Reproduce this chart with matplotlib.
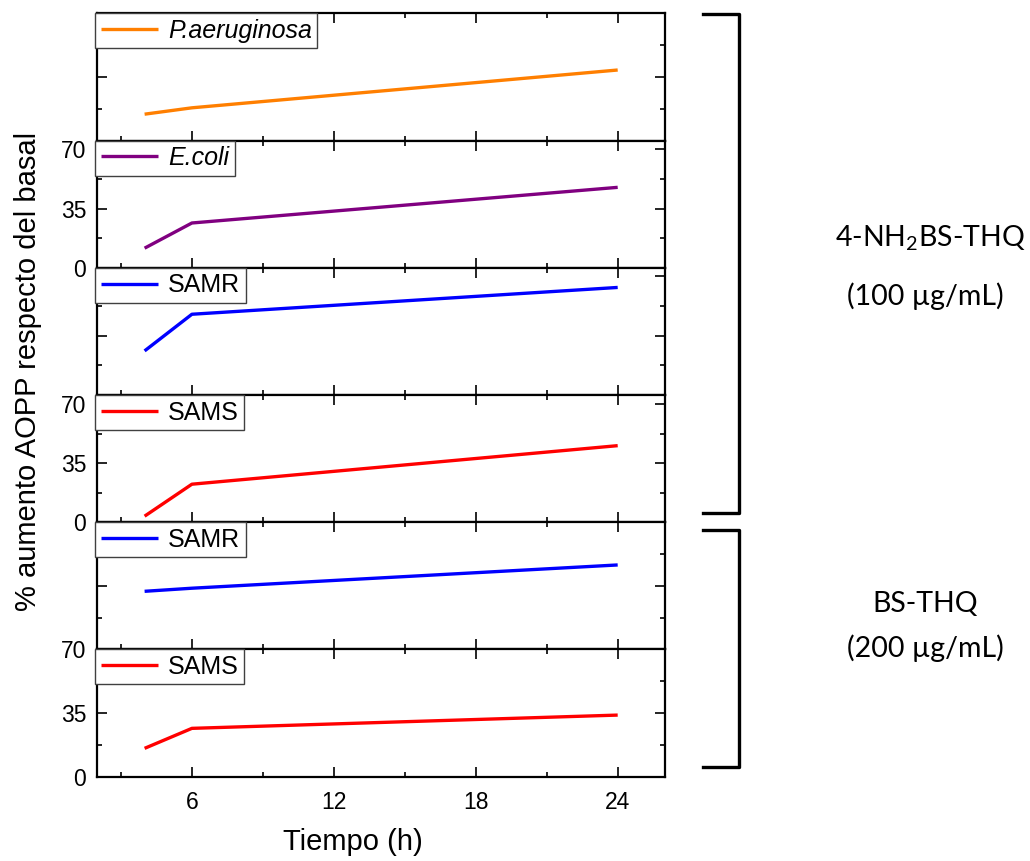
import matplotlib
matplotlib.use("Agg")
import matplotlib.pyplot as plt
from matplotlib.ticker import FixedLocator, NullFormatter
from matplotlib.lines import Line2D

plt.rcParams['font.family'] = ['Liberation Sans', 'DejaVu Sans']
plt.rcParams['mathtext.fontset'] = 'custom'
plt.rcParams['mathtext.rm'] = 'Lato'

# ---- data ----
tiempo = [4, 6, 24]
series_labels = ["P.aeruginosa", "E.coli", "SAMR", "SAMS", "SAMR", "SAMS"]
series_italic = [True, True, False, False, False, False]
series_colors = ["#FF7F00", "#800080", "#0000FF", "#FF0000", "#0000FF", "#FF0000"]
paeruginosa = [14.5, 18.0, 38.8]
ecoli = [11.6, 26.5, 47.6]
samr_nh2 = [26.0, 47.6, 63.4]
sams_nh2 = [3.6, 22.6, 45.5]
samr_bs = [32.0, 33.7, 46.5]
sams_bs = [15.6, 26.6, 33.9]
series_values = [paeruginosa, ecoli, samr_nh2, sams_nh2, samr_bs, sams_bs]
y_tops = [70, 75.3, 75, 75.6, 70, 70]
y_labelled = [False, True, False, True, False, True]
y_tick_labels = ["0", "35", "70"]
x_ticks = [6, 12, 18, 24]
x_label = "Tiempo (h)"
y_label = "% aumento AOPP respecto del basal"
group1 = ["4-NH$_\\mathregular{2}$BS-THQ", "(100 µg/mL)"]
group2 = ["BS-THQ", "(200 µg/mL)"]

W, H = 1030, 861
fig = plt.figure(figsize=(W / 100, H / 100), dpi=100)

left, right = 97.3 / W, 665 / W
top_px, bot_px = 13.3, 776.7
n = len(series_values)
ph = (bot_px - top_px) / n

axes = []
for i in range(n):
    y0 = 1 - (top_px + (i + 1) * ph) / H
    ax = fig.add_axes([left, y0, right - left, ph / H])
    axes.append(ax)
    ax.plot(tiempo, series_values[i], color=series_colors[i], lw=2.4,
            solid_capstyle='butt', label=series_labels[i])
    ax.set_xlim(2, 26)
    ax.set_ylim(0, y_tops[i])
    ax.xaxis.set_major_locator(FixedLocator(x_ticks))
    ax.xaxis.set_minor_locator(FixedLocator([3, 9, 15, 21]))
    ax.yaxis.set_major_locator(FixedLocator([0, 35, 70]))
    ax.yaxis.set_minor_locator(FixedLocator([17.5, 52.5]))
    ax.tick_params(which='both', direction='in', top=True, right=True,
                   width=1.2, colors='black')
    ax.tick_params(which='major', length=7)
    ax.tick_params(which='minor', length=3.5)
    ax.tick_params(axis='y', labelsize=16.5, pad=8)
    ax.tick_params(axis='x', labelsize=16.5, pad=10)
    for sp in ax.spines.values():
        sp.set_linewidth(1.6)
    if y_labelled[i]:
        ax.set_yticklabels(y_tick_labels)
    else:
        ax.yaxis.set_major_formatter(NullFormatter())
    if i < n - 1:
        ax.xaxis.set_major_formatter(NullFormatter())
    leg = ax.legend(loc='upper left', bbox_to_anchor=(-0.004, 1.0),
                    borderaxespad=0, fancybox=False, framealpha=1,
                    edgecolor='#404040', handlelength=2.3, handletextpad=0.4,
                    borderpad=0.22, prop={'size': 18,
                                          'style': 'italic' if series_italic[i] else 'normal'})
    leg.get_frame().set_linewidth(1.0)
    leg.set_zorder(10)

fig.text(353 / W, 1 - 842 / H, x_label, ha='center', va='center', fontsize=21)
fig.text(28 / W, 1 - 371 / H, y_label, ha='center', va='center', fontsize=21,
         rotation=90)

# brackets
def bracket(y_top, y_bot):
    xs = [703 / W, 739 / W, 739 / W, 703 / W]
    ys = [1 - y_top / H, 1 - y_top / H, 1 - y_bot / H, 1 - y_bot / H]
    fig.add_artist(Line2D(xs, ys, color='black', lw=2.4,
                          solid_joinstyle='round'))

bracket(14, 513)
bracket(530, 767)

fig.text(930 / W, 1 - 238 / H, group1[0], ha='center', va='center',
         fontsize=20.5, family='Lato')
fig.text(925 / W, 1 - 296 / H, group1[1], ha='center', va='center',
         fontsize=20.5, family='Lato')
fig.text(925 / W, 1 - 604 / H, group2[0], ha='center', va='center',
         fontsize=20.5, family='Lato')
fig.text(925 / W, 1 - 648 / H, group2[1], ha='center', va='center',
         fontsize=20.5, family='Lato')

fig.savefig("out.png", dpi=100)
